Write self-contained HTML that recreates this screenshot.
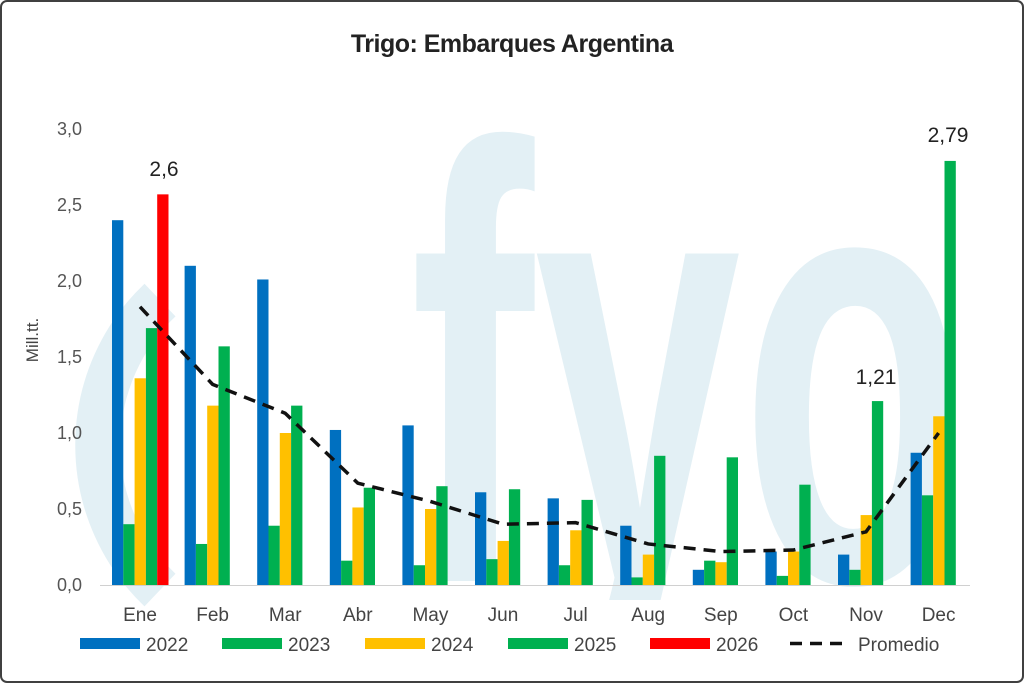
<!DOCTYPE html>
<html><head><meta charset="utf-8">
<style>
html,body{margin:0;padding:0;background:#fff;width:1024px;height:683px;overflow:hidden;position:relative;}
svg{display:block;font-family:"Liberation Sans",sans-serif;position:absolute;left:0;top:0;}
#wm{position:absolute;left:0;top:0;width:1024px;height:600px;overflow:hidden;}
#wm span{position:absolute;left:410px;top:0;height:600px;line-height:600px;font:bold 620px/600px "Liberation Sans",sans-serif;color:#e3f0f5;white-space:nowrap;transform-origin:0 0;transform:scaleX(0.60) translateY(67px);}
</style></head>
<body>
<svg width="1024" height="683" viewBox="0 0 1024 683" xmlns="http://www.w3.org/2000/svg" style="z-index:0">
<rect x="1" y="1" width="1022" height="681" rx="6" fill="#fff" stroke="#404040" stroke-width="2"/>
<path d="M160,300 A200,200 0 0 0 160,590" fill="none" stroke="#e3f0f5" stroke-width="45"/>
</svg>
<div id="wm"><span>fyo</span></div>
<svg id="c" width="1024" height="683" viewBox="0 0 1024 683" xmlns="http://www.w3.org/2000/svg" style="z-index:2">
<text x="512" y="52" text-anchor="middle" font-size="25" fill="#222" font-weight="bold" letter-spacing="-0.5">Trigo: Embarques Argentina</text>
<text transform="translate(38,340) rotate(-90)" text-anchor="middle" font-size="17" fill="#444">Mill.tt.</text>
<g id="g"></g>
</svg>
<script>
var g=document.getElementById('g'),ns='http://www.w3.org/2000/svg';
function el(t,a,txt){var e=document.createElementNS(ns,t);for(var k in a)e.setAttribute(k,a[k]);if(txt!=null)e.textContent=txt;g.appendChild(e);return e;}
var y0=585,s=152;function Y(v){return y0-v*s;}
for(var i=0;i<=6;i++){var v=i*0.5;el('text',{x:82,y:Y(v)+6,'text-anchor':'end','font-size':18,fill:'#555'},v.toFixed(1).replace('.',','));}
el('line',{x1:100,y1:585.5,x2:970,y2:585.5,stroke:'#d0d0d0','stroke-width':1});
var m=['Ene','Feb','Mar','Abr','May','Jun','Jul','Aug','Sep','Oct','Nov','Dec'];
var d=[[2.40,0.40,1.36,1.69,2.57],[2.10,0.27,1.18,1.57],[2.01,0.39,1.00,1.18],[1.02,0.16,0.51,0.64],[1.05,0.13,0.50,0.65],[0.61,0.17,0.29,0.63],[0.57,0.13,0.36,0.56],[0.39,0.05,0.20,0.85],[0.10,0.16,0.15,0.84],[0.22,0.06,0.22,0.66],[0.20,0.10,0.46,1.21],[0.87,0.59,1.11,2.79]];
var col=['#0070C0','#00B050','#FFC000','#00B050','#FF0000'];
var avg=[1.83,1.32,1.13,0.67,0.55,0.40,0.41,0.27,0.22,0.23,0.35,1.00];
var pts=[];
for(var i=0;i<12;i++){var cx=137+i*72.6;var st=cx-25;
 el('text',{x:cx+3,y:621,'text-anchor':'middle','font-size':19,fill:'#444'},m[i]);
 d[i].forEach(function(v,j){el('rect',{x:st+j*11.3,y:Y(v),width:11.3,height:v*s,fill:col[j]});});
 pts.push((cx+3)+','+Y(avg[i]));}
el('polyline',{points:pts.join(' '),fill:'none',stroke:'#111','stroke-width':3.5,'stroke-dasharray':'12,8'});
el('text',{x:164,y:176,'text-anchor':'middle','font-size':21,fill:'#222'},'2,6');
el('text',{x:876,y:384,'text-anchor':'middle','font-size':21,fill:'#222'},'1,21');
el('text',{x:948,y:142,'text-anchor':'middle','font-size':21,fill:'#222'},'2,79');
var L=[[80,'#0070C0','2022'],[222,'#00B050','2023'],[365,'#FFC000','2024'],[508,'#00B050','2025'],[650,'#FF0000','2026']];
L.forEach(function(l){el('rect',{x:l[0],y:638,width:60,height:11,fill:l[1]});el('text',{x:l[0]+66,y:651,'font-size':19,fill:'#444'},l[2]);});
el('line',{x1:790,y1:643.5,x2:848,y2:643.5,stroke:'#111','stroke-width':3.5,'stroke-dasharray':'12,8'});
el('text',{x:858,y:651,'font-size':19,fill:'#444'},'Promedio');
</script>
</body></html>
